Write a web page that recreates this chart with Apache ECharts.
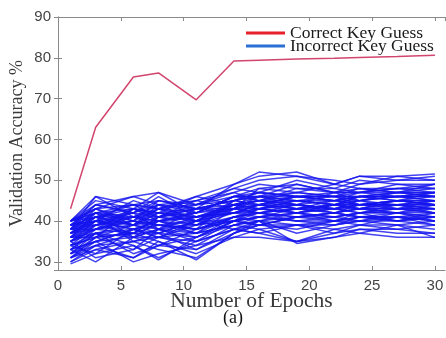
<!DOCTYPE html>
<html>
<head>
<meta charset="utf-8">
<script src="https://cdn.jsdelivr.net/npm/echarts@6/dist/echarts.min.js"></script>
<style>
html, body { margin: 0; padding: 0; background: #fff; }
#chart { width: 446px; height: 338px; }
</style>
</head>
<body>
<div id="chart"></div>
<script>
// epochs where the curves were sampled
var epochs = [1, 3, 6, 8, 11, 14, 16, 19, 22, 24, 27, 30];
var correctKey = [43, 63, 75.3, 76.3, 69.7, 79.2, 79.4, 79.7, 79.9, 80.1, 80.3, 80.6];
// a sample of the incorrect key guesses, read from the band
var incorrectKeys = [
    [38, 46, 41, 44, 40, 44, 46, 45, 44, 46, 45, 47],
    [40, 43, 46, 47, 44, 45, 47, 46, 46, 47, 48, 48],
    [36, 42, 44, 43, 46, 49, 51, 52, 49, 51, 51, 51.5],
    [33, 30, 36, 34, 38, 40, 42, 41, 42, 43, 42, 44],
    [30, 34, 31, 35, 30.5, 37, 39, 38, 40, 39, 41, 40],
    [39, 41, 39, 42, 43, 42, 44, 43, 45, 44, 45, 44],
    [37, 38, 43, 40, 42, 46, 45, 47, 46, 48, 47, 49],
    [31, 35, 30, 32, 34, 36, 38, 35, 37, 38, 37, 37],
    [40, 44, 42, 46, 41, 43, 48, 49, 47, 49, 50, 50],
    [35, 39, 37, 41, 39, 41, 40, 42, 41, 40, 42, 41],
    [32, 37, 34, 30.5, 36, 39, 41, 40, 39, 41, 40, 42],
    [38, 40, 45, 43, 45, 47, 49, 48, 48, 47, 49, 48],
    [34, 32, 38, 37, 33, 38, 37, 35, 38, 37, 36, 36],
    [39, 43, 40, 45, 44, 48, 47, 50, 48, 50, 49, 49],
    [36, 36, 33, 38, 35, 40, 43, 42, 43, 42, 44, 43],
    [30, 33, 35, 33, 31, 37, 39, 41, 40, 41, 40, 41],
    [40, 45, 43, 42, 46, 44, 45, 44, 47, 45, 46, 46],
    [37, 40, 38, 36, 40, 42, 44, 45, 44, 45, 43, 45],
    [33, 38, 41, 39, 37, 41, 42, 43, 42, 44, 44, 43],
    [38, 42, 36, 40, 38, 45, 44, 46, 45, 46, 47, 47],
    [35, 31, 33, 36, 34, 39, 38, 39, 38, 39, 39, 38],
    [39, 44, 46, 44, 42, 46, 48, 47, 49, 48, 48, 49],
    [31, 36, 39, 37, 40, 38, 40, 37, 39, 40, 41, 39],
    [36, 39, 42, 45, 43, 43, 46, 44, 43, 45, 46, 45],
    [40, 41, 44, 41, 45, 48, 50, 51, 50, 49, 51, 50],
    [34, 37, 32, 34, 36, 40, 41, 42, 40, 42, 42, 40],
    [38, 39, 41, 43, 39, 44, 43, 45, 46, 44, 45, 46],
    [32, 34, 37, 35, 32, 36, 36, 35, 36, 38, 38, 37],
    [37, 43, 39, 41, 44, 47, 45, 48, 47, 48, 47, 48],
    [35, 40, 36, 38, 41, 42, 41, 43, 44, 43, 43, 42],
    [29.5, 32, 34, 31, 35, 38, 37, 39, 37, 39, 38, 39],
    [39, 42, 43, 47, 42, 46, 46, 49, 47, 47, 48, 47],
    [36, 38, 40, 39, 38, 41, 43, 44, 43, 43, 45, 44],
    [33, 35, 38, 40, 37, 43, 42, 41, 42, 41, 41, 42],
    [38, 44, 42, 38, 43, 45, 47, 46, 45, 46, 46, 47],
    [31, 33, 31, 34, 33, 37, 40, 34.5, 36, 37, 39, 36],
    [40, 46, 44, 45, 43, 49, 52, 51, 49, 51, 50, 51],
    [37, 41, 35, 37, 40, 40, 39, 41, 41, 42, 40, 41],
    [34, 36, 43, 42, 41, 44, 44, 42, 44, 44, 44, 45],
    [39, 40, 39, 44, 45, 43, 45, 46, 46, 46, 47, 46],
    [37, 40, 41, 42, 40, 43, 44, 44, 45, 44, 45, 45],
    [35, 38, 39, 40, 41, 42, 43, 42, 43, 44, 43, 44],
    [39, 41, 42, 41, 43, 45, 46, 45, 44, 46, 46, 46],
    [36, 37, 38, 39, 38, 41, 42, 43, 43, 42, 43, 43],
    [34, 39, 40, 38, 39, 43, 44, 46, 45, 45, 46, 45],
    [38, 42, 39, 42, 41, 44, 45, 43, 44, 45, 44, 45],
    [32, 36, 37, 37, 36, 40, 41, 40, 41, 42, 42, 41],
    [37, 39, 43, 41, 42, 44, 43, 45, 44, 43, 45, 44],
    [40, 42, 40, 43, 42, 46, 46, 47, 46, 46, 46, 47],
    [35, 37, 36, 38, 37, 39, 40, 41, 42, 41, 41, 40],
    [33, 35, 36, 36, 35, 38, 39, 39, 40, 40, 39, 40],
    [39, 40, 42, 44, 43, 45, 44, 46, 47, 47, 46, 46],
    [36, 41, 41, 40, 41, 42, 42, 43, 42, 43, 44, 42],
    [38, 38, 40, 39, 40, 44, 45, 44, 43, 44, 44, 44],
    [31, 34, 35, 36, 37, 39, 40, 39, 39, 40, 40, 39],
    [37, 41, 39, 43, 41, 43, 43, 42, 44, 43, 42, 43],
    [40, 43, 44, 43, 44, 46, 47, 46, 45, 47, 47, 47],
    [34, 36, 37, 39, 38, 40, 41, 42, 41, 42, 43, 42],
    [39, 39, 41, 40, 39, 42, 44, 43, 44, 44, 45, 44],
    [36, 40, 38, 40, 42, 43, 42, 44, 42, 43, 43, 43],
    [33, 37, 39, 38, 36, 41, 42, 40, 40, 41, 41, 41],
    [38, 41, 43, 42, 40, 45, 46, 46, 46, 45, 47, 46],
    [35, 38, 37, 41, 40, 42, 43, 44, 43, 44, 44, 44],
    [40, 42, 41, 41, 43, 44, 45, 45, 45, 46, 45, 45],
    [32, 35, 38, 36, 39, 40, 39, 41, 42, 41, 42, 42]
];

function pairs(vals) {
    var out = [];
    for (var i = 0; i < epochs.length; i++) {
        out.push([epochs[i], vals[i]]);
    }
    return out;
}

var axisGray = "#8a8a8a";
var series = [];
for (var i = 0; i < incorrectKeys.length; i++) {
    series.push({
        name: "Incorrect Key Guess",
        type: "line",
        data: pairs(incorrectKeys[i]),
        showSymbol: false,
        silent: true,
        lineStyle: { color: "#1414ee", width: 1.5, opacity: 0.8 },
        itemStyle: { color: "#1414ee" },
    });
}
series.push({
    name: "Correct Key Guess",
    type: "line",
    data: pairs(correctKey),
    showSymbol: false,
    lineStyle: { color: "#d2456e", width: 1.5 },
    itemStyle: { color: "#d2456e" },
    z: 5,
});

var myChart = echarts.init(document.getElementById("chart"));
var option = {
    animation: false,
    title: {
        text: "(a)",
        left: 218,
        top: 304,
        textStyle: { fontFamily: "Liberation Serif", fontSize: 18, fontWeight: "normal", color: "#111" },
    },
    grid: { left: 58, right: 1, top: 17, bottom: 68, outerBoundsMode: "none" },
    legend: {
        left: 246,
        top: 24,
        padding: 0,
        orient: "vertical",
        itemGap: -5,
        itemWidth: 39,
        itemHeight: 3,
        icon: "rect",
        textStyle: { fontFamily: "Liberation Serif", fontSize: 17.5, color: "#1a1a1a", lineHeight: 15 },
        data: [
            { name: "Correct Key Guess", itemStyle: { color: "#e8202a" } },
            { name: "Incorrect Key Guess", itemStyle: { color: "#2a6fd2" } },
        ],
    },
    xAxis: [{
            type: "value",
            min: 0,
            max: 30.8,
            minInterval: 5,
            maxInterval: 5,
            name: "Number of Epochs",
            nameLocation: "middle",
            nameGap: 20,
            nameMoveOverlap: false,
            nameTextStyle: { fontFamily: "Liberation Serif", fontSize: 21.5, color: "#3a3a3a" },
            axisLine: { lineStyle: { color: axisGray } },
            axisTick: { inside: true, length: 4, lineStyle: { color: axisGray } },
            axisLabel: { showMaxLabel: false, fontFamily: "Liberation Sans", fontSize: 15, color: "#444", margin: 8 },
            splitLine: { show: false },
        },
        {
            type: "value",
            position: "top",
            min: 0,
            max: 30.8,
            minInterval: 5,
            maxInterval: 5,
            axisLine: { lineStyle: { color: axisGray } },
            axisTick: { inside: true, length: 4, lineStyle: { color: axisGray } },
            axisLabel: { show: false },
            splitLine: { show: false },
        },
    ],
    yAxis: [{
            type: "value",
            min: 28,
            max: 90,
            minInterval: 10,
            maxInterval: 10,
            name: "Validation Accuracy %",
            nameLocation: "middle",
            nameGap: 32,
            nameMoveOverlap: false,
            nameTextStyle: { fontFamily: "Liberation Serif", fontSize: 18, color: "#3a3a3a" },
            axisLine: { show: true, lineStyle: { color: axisGray } },
            axisTick: { show: true, inside: true, length: 4, lineStyle: { color: axisGray } },
            axisLabel: { showMinLabel: false, fontFamily: "Liberation Sans", fontSize: 15, color: "#444", margin: 7 },
            splitLine: { show: false },
        },
        {
            type: "value",
            position: "right",
            min: 28,
            max: 90,
            minInterval: 10,
            maxInterval: 10,
            axisLine: { show: true, lineStyle: { color: axisGray } },
            axisTick: { show: true, inside: true, length: 4, lineStyle: { color: axisGray } },
            axisLabel: { show: false },
            splitLine: { show: false },
        },
    ],
    series: series,
};
myChart.setOption(option);
</script>
</body>
</html>
